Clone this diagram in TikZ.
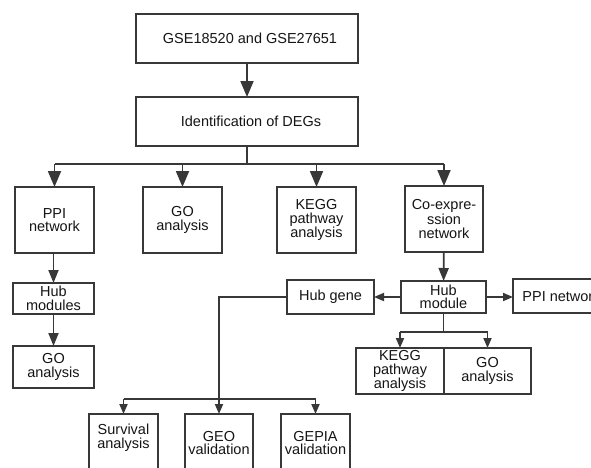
\documentclass[tikz,border=0pt]{standalone}
\usepackage{fontspec}
\setmainfont{Liberation Sans}
\usetikzlibrary{arrows.meta}
\definecolor{ln}{HTML}{383838}
\definecolor{tx}{HTML}{151515}
\begin{document}
\begin{tikzpicture}[x=1pt,y=-1pt,
  box/.style={draw=ln, line width=1.8pt, inner sep=0pt, outer sep=0pt, align=center,
    font=\fontsize{14.5pt}{13.5pt}\selectfont, text=tx},
  lbl/.style={inner sep=0pt, align=center, font=\fontsize{14.5pt}{13.5pt}\selectfont, text=tx},
  conn/.style={draw=ln, line width=1.8pt},
  bigarr/.style={conn,-{Triangle[length=16pt,width=13pt]}},
  midarr/.style={conn,-{Triangle[length=13pt,width=10pt]}},
  smallarr/.style={conn,-{Triangle[length=10pt,width=8pt]}}]
\useasboundingbox[fill=white] (0,0) rectangle (591,467);

% top
\node[box, minimum width=222pt, minimum height=49pt] (src) at (247,38.5) {\hspace*{6pt}GSE18520 and GSE27651};
\node[box, minimum width=222pt, minimum height=49pt] (deg) at (247,121.5) {\hspace*{8pt}Identification of DEGs};

% second row
\node[box, minimum width=79pt, minimum height=66pt] (ppi) at (54.5,220) {PPI\\network};
\node[box, minimum width=79pt, minimum height=66pt] (go1) at (182.5,220) {GO\\analysis};
\node[box, minimum width=79pt, minimum height=66pt] (kegg1) at (316.5,220) {KEGG\\pathway\\analysis};
\node[box, minimum width=78pt, minimum height=66pt] (coexp) at (444,219) {Co-expre-\\ssion\\network};

% left column
\node[box, minimum width=81pt, minimum height=31pt] (hubmods) at (53.5,298.5) {Hub\\modules};
\node[box, minimum width=81pt, minimum height=42pt] (go2) at (53.5,367) {GO\\analysis};

% right part
\node[box, minimum width=85pt, minimum height=32pt] (hubmod) at (443.5,297) {Hub\\module};
\node[box, minimum width=87pt, minimum height=34pt] (hubgene) at (330.5,297) {Hub gene};
\node[box, minimum width=97pt, minimum height=34pt] (ppi2) at (561.5,296) {PPI network};
\node[box, minimum width=88pt, minimum height=46pt] (kegg2) at (400,371) {KEGG\\pathway\\analysis};
\node[box, minimum width=87pt, minimum height=46pt] (go3) at (487.5,371) {GO\\analysis};

% bottom boxes (cut by the lower edge)
\node[box, minimum width=69pt, minimum height=80pt] (surv) at (123.5,454) {};
\node[box, minimum width=68pt, minimum height=80pt] (geo) at (219,454) {};
\node[box, minimum width=69pt, minimum height=80pt] (gepia) at (315.5,454) {};
\node[lbl] (survt) at (123.5,437.5) {Survival\\analysis};
\node[lbl] (geot) at (219,443) {GEO\\validation};
\node[lbl] (gepiat) at (315.5,443) {GEPIA\\validation};

% connectors
\draw[bigarr] (src) -- (deg);
\coordinate (bus) at (247,164);
\draw[conn] (deg.south) -- (bus);
\draw[conn] (ppi.north |- bus) -- (coexp.north |- bus);
\draw[bigarr] (ppi.north |- bus) -- (ppi.north);
\draw[bigarr] (go1.north |- bus) -- (go1.north);
\draw[bigarr] (kegg1.north |- bus) -- (kegg1.north);
\draw[bigarr] (coexp.north |- bus) -- (coexp.north);

\draw[midarr] (ppi.south -| hubmods.north) -- (hubmods.north);
\draw[midarr] (hubmods) -- (go2);

\draw[midarr] (coexp) -- (hubmod);
\draw[smallarr] (hubmod) -- (hubgene);
\draw[smallarr] (hubmod.east) -- (ppi2.west |- hubmod.east);

\coordinate (rbus) at (443.5,332);
\draw[conn] (hubmod.south) -- (rbus);
\draw[conn] (kegg2.north |- rbus) -- (go3.north |- rbus);
\draw[smallarr] (kegg2.north |- rbus) -- (kegg2.north);
\draw[smallarr] (go3.north |- rbus) -- (go3.north);

\coordinate (gbus) at (219,399);
\draw[conn] (hubgene.west) -| (gbus);
\draw[conn] (surv.north |- gbus) -- (gepia.north |- gbus);
\draw[smallarr] (surv.north |- gbus) -- (surv.north);
\draw[smallarr] (geo.north |- gbus) -- (geo.north);
\draw[smallarr] (gepia.north |- gbus) -- (gepia.north);
\end{tikzpicture}
\end{document}
